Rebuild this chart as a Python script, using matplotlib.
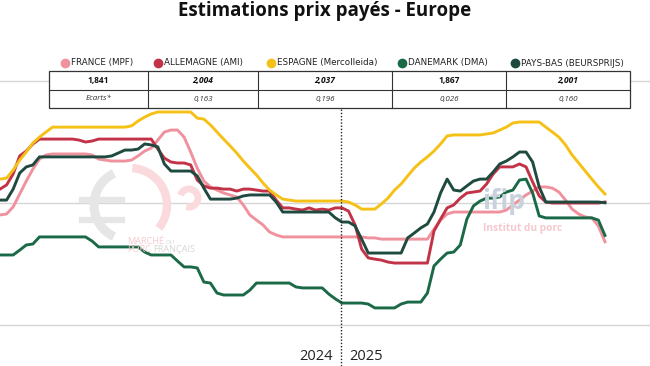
import matplotlib
matplotlib.use("Agg")
import matplotlib.pyplot as plt
from matplotlib.patches import Rectangle, Arc
from matplotlib.lines import Line2D
import numpy as np

# ---------------- data (€/kg, weekly, Jan 2024 -> Oct 2025) ----------------
series_names = ["FRANCE (MPF)", "ALLEMAGNE (AMI)", "ESPAGNE (Mercolleida)",
                "DANEMARK (DMA)", "PAYS-BAS (BEURSPRIJS)"]
series_colors = ["#f0929e", "#c23347", "#f5c116", "#1b6a47", "#1f4a3f"]

france = [1.951, 1.955, 1.984, 2.037, 2.090, 2.139, 2.180, 2.197,
          2.201, 2.201, 2.201, 2.201, 2.201, 2.201,
          2.197, 2.180, 2.176, 2.172, 2.172, 2.172, 2.176, 2.193, 2.213, 2.225,
          2.258, 2.291, 2.299, 2.299, 2.270, 2.209, 2.143, 2.090, 2.066, 2.053,
          2.041, 2.033, 2.025, 1.992, 1.951, 1.930, 1.910, 1.881, 1.869, 1.861,
          1.861, 1.861, 1.861, 1.861, 1.861, 1.861, 1.861, 1.861, 1.861, 1.861,
          1.861, 1.861, 1.857, 1.857,
          1.852, 1.852, 1.852, 1.852, 1.852, 1.852, 1.852, 1.852,
          1.893, 1.930, 1.955,
          1.963, 1.963, 1.963, 1.963, 1.963, 1.963, 1.963, 1.963,
          1.971, 1.992, 2.012, 2.033, 2.049, 2.066, 2.066, 2.061, 2.045, 2.012,
          1.975, 1.955, 1.943, 1.939, 1.906, 1.841]

allemagne = [2.057, 2.074, 2.119, 2.193, 2.213, 2.242, 2.262,
             2.262, 2.262, 2.262, 2.262, 2.262,
             2.258, 2.250, 2.254, 2.262,
             2.262, 2.262, 2.262, 2.262, 2.262, 2.262, 2.262, 2.262,
             2.221, 2.184, 2.168, 2.164, 2.164, 2.156, 2.094, 2.070, 2.061, 2.061,
             2.057, 2.057, 2.049, 2.057, 2.057, 2.053, 2.049, 2.049, 2.012, 1.980,
             1.980, 1.975, 1.971, 1.980, 1.971, 1.975, 1.971, 1.980, 1.980, 1.967,
             1.910, 1.811, 1.775, 1.770, 1.766, 1.758,
             1.754, 1.754, 1.754, 1.754, 1.754, 1.754,
             1.885, 1.934, 1.980, 1.992, 2.020, 2.041, 2.045, 2.049, 2.078, 2.119,
             2.148, 2.148, 2.148, 2.160, 2.148, 2.086, 2.029, 2.004,
             2.000, 2.000, 2.000, 2.000, 2.000, 2.000, 2.000, 2.000, 2.004]

espagne = [2.098, 2.102, 2.135, 2.176, 2.209, 2.246, 2.270, 2.291, 2.311,
           2.311, 2.311, 2.311, 2.311, 2.311, 2.311, 2.311, 2.311, 2.311, 2.311, 2.311,
           2.316, 2.336, 2.352, 2.365,
           2.373, 2.373, 2.373, 2.373, 2.373, 2.373,
           2.348, 2.344, 2.320, 2.291, 2.262, 2.234, 2.205, 2.172, 2.143, 2.115,
           2.082, 2.053, 2.033, 2.016, 2.012,
           2.008, 2.008, 2.008, 2.008, 2.008, 2.008, 2.008, 2.008,
           2.004, 1.992, 1.975, 1.975, 1.975, 1.996, 2.020, 2.053, 2.078, 2.111,
           2.143, 2.168, 2.189, 2.213, 2.242, 2.275,
           2.279, 2.279, 2.279, 2.279, 2.279,
           2.283, 2.287, 2.299, 2.311, 2.328,
           2.332, 2.332, 2.332, 2.332,
           2.311, 2.291, 2.270, 2.238, 2.197, 2.164, 2.131, 2.098, 2.066, 2.037]

danemark = [1.787, 1.787, 1.787, 1.807, 1.828, 1.832, 1.861,
            1.861, 1.861, 1.861, 1.861, 1.861, 1.861, 1.861,
            1.844, 1.820,
            1.820, 1.820, 1.820, 1.820, 1.820, 1.820,
            1.799, 1.787,
            1.787, 1.787, 1.787,
            1.762, 1.738, 1.738, 1.734, 1.676, 1.672, 1.631, 1.623, 1.623, 1.623,
            1.623, 1.643, 1.672,
            1.672, 1.672, 1.672, 1.672, 1.672,
            1.656, 1.652, 1.652, 1.652, 1.652, 1.627, 1.607, 1.590, 1.590, 1.590,
            1.590, 1.586, 1.570, 1.570, 1.570, 1.570, 1.586, 1.594, 1.594, 1.594,
            1.631, 1.742, 1.770, 1.795, 1.799, 1.828, 1.934, 1.988, 2.008, 2.020,
            2.020, 2.025, 2.045, 2.053, 2.094, 2.098, 2.041, 1.947,
            1.939, 1.939, 1.939, 1.939, 1.939, 1.939, 1.939, 1.939, 1.930, 1.867]

pays_bas = [2.012, 2.012, 2.057, 2.123, 2.148, 2.156, 2.189,
            2.189, 2.189, 2.189, 2.189, 2.189, 2.189, 2.189, 2.189, 2.189, 2.189,
            2.193, 2.205, 2.217, 2.217, 2.221, 2.242, 2.238, 2.230, 2.160, 2.131,
            2.131, 2.131, 2.131,
            2.111, 2.061, 2.016, 2.016, 2.016, 2.016, 2.020, 2.029, 2.033, 2.033,
            2.033, 2.033, 2.004, 1.963,
            1.963, 1.963, 1.963, 1.963, 1.963, 1.963, 1.963,
            1.939, 1.922, 1.922, 1.906, 1.852, 1.795,
            1.795, 1.795, 1.795, 1.795, 1.795,
            1.857, 1.877, 1.898, 1.914, 1.963, 2.041, 2.098, 2.053, 2.049, 2.070,
            2.090, 2.098, 2.098, 2.127, 2.160, 2.172, 2.189, 2.209, 2.209, 2.168,
            2.066, 2.004,
            2.004, 2.004, 2.004, 2.004, 2.004, 2.004, 2.004, 2.004, 2.001]

last_prices = ["1,841", "2,004", "2,037", "1,867", "2,001"]
ecarts = ["Ecarts*", "0,163", "0,196", "0,026", "0,160"]
year_labels = ["2024", "2025"]
start_2025 = 51.85          # week index of 1 Jan 2025
title = "Estimations prix payés - Europe"

# ---------------- figure ----------------
W, H = 650, 366
fig = plt.figure(figsize=(W / 100, H / 100), dpi=100)
fig.patch.set_facecolor("white")

def fx(x):
    return x / W

def fy(y):
    return 1 - y / H

ax = fig.add_axes([0, 0, 1, 1])
ax.set_facecolor("none")
for s in ax.spines.values():
    s.set_visible(False)
ax.set_xticks([])
ax.set_yticks([])
ax.set_xlim(0, 98.85)
ax.set_ylim(1.332, 2.832)

# grid lines
for g in [1.5, 2.0, 2.5]:
    ax.axhline(g, color="#d6d6d6", lw=1.0, zorder=1)

# ---------------- watermarks ----------------
wm_gray = "#e6e6e6"
wm_pink = "#fbdade"
ax_trans = fig.transFigure
cx, cy, r = 129, 205, 35
fig.add_artist(Arc((fx(cx), fy(cy)), 2 * r / W, 2 * r / H, theta1=105, theta2=255,
                   color=wm_gray, lw=6.5, transform=ax_trans, zorder=0.5))
fig.add_artist(Arc((fx(cx + 1), fy(cy)), 2 * (r + 2) / W, 2 * (r + 2) / H,
                   theta1=-55, theta2=88,
                   color=wm_pink, lw=6, transform=ax_trans, zorder=0.5))
fig.add_artist(Arc((fx(189), fy(198)), 18 / W, 18 / H, theta1=-100, theta2=150,
                   color=wm_pink, lw=5, transform=ax_trans, zorder=0.5))
for yy in (200, 220):
    fig.add_artist(Line2D([fx(82), fx(122)], [fy(yy), fy(yy)], color=wm_gray,
                          lw=4.5, transform=ax_trans, zorder=0.5))
fig.text(fx(127), fy(241), "MARCHÉ", color="#f6c9ce", fontsize=6.6,
         family="Open Sans", va="center", ha="left", zorder=0.6)
fig.text(fx(165), fy(242), "DU", color="#d9d9d9", fontsize=4.5,
         family="Open Sans", va="center", ha="left", zorder=0.6)
fig.text(fx(127), fy(250), "PORC", color="#f6c9ce", fontsize=6.6,
         family="Open Sans", va="center", ha="left", zorder=0.6)
fig.text(fx(153), fy(250), "FRANÇAIS", color="#d6d6d6", fontsize=6.6,
         family="Open Sans", va="center", ha="left", zorder=0.6)
fig.text(fx(482), fy(201), "ifip", color="#c9d1dc", fontsize=19, fontweight="bold",
         family="Open Sans", va="center", ha="left", zorder=0.6)
fig.text(fx(483), fy(229), "Institut du porc", color="#f5c8cf", fontsize=7.3,
         fontweight="bold", family="Open Sans", va="center", ha="left", zorder=0.6)

# ---------------- lines ----------------
x = np.arange(len(france))
order = [(france, 0), (espagne, 2), (allemagne, 1), (danemark, 3), (pays_bas, 4)]
for vals, k in order:
    ax.plot(x, vals, color=series_colors[k], lw=2.1, solid_joinstyle="round",
            zorder=3 + k * 0.1)

# year separator
ax.axvline(start_2025, ymin=0, ymax=fy(107), color="#222222", lw=1.0,
           linestyle=(0, (1, 1.3)), zorder=4)
fig.text(fx(333), fy(356), year_labels[0], fontsize=10.5, family="Open Sans",
         color="#222222", ha="right", va="center")
fig.text(fx(349), fy(356), year_labels[1], fontsize=10.5, family="Open Sans",
         color="#222222", ha="left", va="center")

# ---------------- title ----------------
fig.text(0.5, fy(11), title, fontsize=13.5, fontweight="bold", family="Open Sans",
         color="#111111", ha="center", va="center")

# ---------------- legend ----------------
leg_x = [65, 158, 271, 402, 515]
for k, name in enumerate(series_names):
    fig.add_artist(Line2D([fx(leg_x[k])], [fy(63)], marker="o", markersize=6,
                          color=series_colors[k], transform=ax_trans, zorder=6))
    fig.text(fx(leg_x[k] + 6), fy(63), name, fontsize=6.3,
             family=["Liberation Sans Narrow", "DejaVu Sans"],
             color="#222222", ha="left", va="center", zorder=6)

# ---------------- table ----------------
tx0, tx1, ty0, ty1, tym = 49, 630, 71, 108, 89.5
fig.add_artist(Rectangle((fx(tx0), fy(ty1)), fx(tx1 - tx0), (ty1 - ty0) / H,
                         facecolor="white", edgecolor="#333333", lw=0.9,
                         transform=ax_trans, zorder=6))
fig.add_artist(Line2D([fx(tx0), fx(tx1)], [fy(tym), fy(tym)], color="#333333",
                      lw=0.8, transform=ax_trans, zorder=7))
col_edges = [49, 148, 258, 392, 506, 630]
for xe in col_edges[1:-1]:
    fig.add_artist(Line2D([fx(xe), fx(xe)], [fy(ty0), fy(ty1)], color="#333333",
                          lw=0.8, transform=ax_trans, zorder=7))
for k in range(5):
    xc = (col_edges[k] + col_edges[k + 1]) / 2
    italic = "normal" if k in (0, 3) else "italic"
    fig.text(fx(xc), fy(80.5), last_prices[k], fontsize=6.0, fontweight="bold",
             style=italic, family="Open Sans", color="#111111",
             ha="center", va="center", zorder=8)
    fig.text(fx(xc), fy(99), ecarts[k], fontsize=5.8, style="italic",
             family="Open Sans", color="#333333", ha="center", va="center", zorder=8)

fig.savefig("out.png", dpi=100, facecolor="white")
